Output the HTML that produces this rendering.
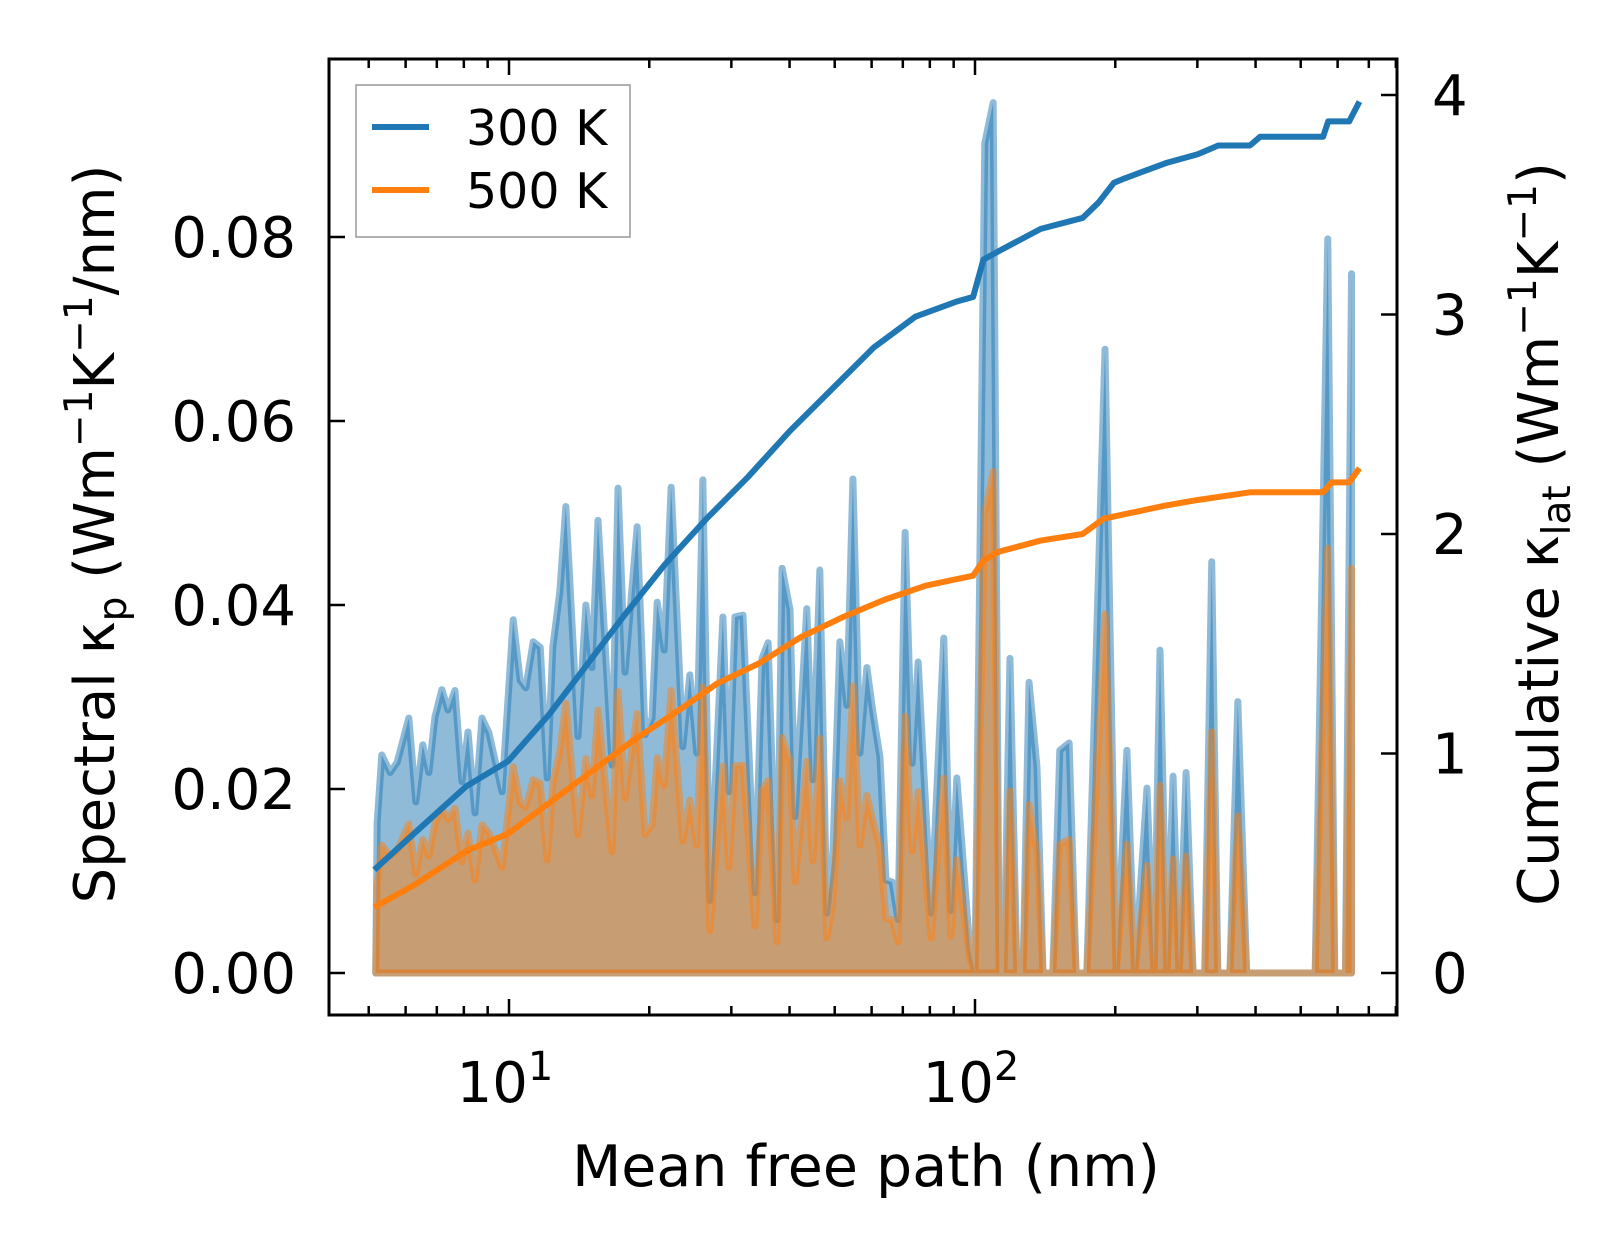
<!DOCTYPE html>
<html><head><meta charset="utf-8"><style>
html,body{margin:0;padding:0;background:#fff;}
svg{display:block;font-family:"DejaVu Sans","Liberation Sans",sans-serif;}
</style></head><body>
<svg id="chart" width="1623" height="1254" viewBox="0 0 1623 1254" xmlns="http://www.w3.org/2000/svg">
<rect width="1623" height="1254" fill="#fff"/>
<g id="plot"></g>
<g id="axes"></g>
</svg>
<script>
// log10 of mean free path (nm) for spectral series
const specLogMfp = [0.714,0.717,0.727,0.745,0.760,0.785,0.800,0.815,0.828,0.841,0.856,0.869,0.884,0.899,0.912,0.927,0.942,0.957,0.985,1.009,1.024,1.036,1.052,1.067,1.082,1.094,1.109,1.122,1.148,1.165,1.178,1.191,1.221,1.234,1.249,1.275,1.292,1.307,1.318,1.333,1.348,1.373,1.388,1.403,1.416,1.431,1.459,1.472,1.485,1.502,1.528,1.543,1.556,1.575,1.586,1.603,1.614,1.639,1.652,1.667,1.682,1.695,1.710,1.725,1.738,1.753,1.768,1.781,1.796,1.809,1.822,1.835,1.850,1.865,1.878,1.906,1.933,1.948,1.961,1.989,2.000,2.021,2.039,2.052,2.062,2.075,2.090,2.103,2.116,2.133,2.146,2.167,2.182,2.202,2.217,2.240,2.279,2.303,2.326,2.343,2.369,2.384,2.397,2.412,2.425,2.438,2.453,2.468,2.493,2.508,2.521,2.547,2.564,2.583,2.730,2.757,2.772,2.795,2.808];
// spectral kappa at 300 K (W/m/K/nm)
const spec300 = [0.0000,0.0163,0.0237,0.0218,0.0229,0.0277,0.0186,0.0248,0.0218,0.0278,0.0308,0.0286,0.0307,0.0208,0.0262,0.0174,0.0277,0.0261,0.0197,0.0384,0.0318,0.0310,0.0360,0.0354,0.0212,0.0354,0.0414,0.0507,0.0257,0.0400,0.0332,0.0492,0.0226,0.0527,0.0327,0.0485,0.0259,0.0277,0.0403,0.0351,0.0528,0.0246,0.0324,0.0239,0.0536,0.0079,0.0387,0.0197,0.0387,0.0389,0.0087,0.0342,0.0359,0.0058,0.0440,0.0395,0.0170,0.0396,0.0210,0.0438,0.0065,0.0130,0.0360,0.0291,0.0537,0.0239,0.0332,0.0283,0.0235,0.0101,0.0099,0.0058,0.0479,0.0228,0.0338,0.0065,0.0364,0.0068,0.0212,0.0025,0.0000,0.0902,0.0946,0.0000,0.0000,0.0342,0.0000,0.0000,0.0316,0.0224,0.0000,0.0000,0.0242,0.0250,0.0000,0.0000,0.0678,0.0000,0.0242,0.0000,0.0201,0.0000,0.0351,0.0000,0.0214,0.0000,0.0218,0.0000,0.0000,0.0447,0.0000,0.0000,0.0295,0.0000,0.0000,0.0798,0.0000,0.0000,0.0760];
// spectral kappa at 500 K
const spec500 = [0.0000,0.0095,0.0139,0.0127,0.0133,0.0162,0.0108,0.0145,0.0127,0.0162,0.0179,0.0167,0.0179,0.0121,0.0152,0.0101,0.0161,0.0152,0.0115,0.0224,0.0185,0.0180,0.0210,0.0206,0.0123,0.0206,0.0241,0.0293,0.0150,0.0233,0.0193,0.0286,0.0132,0.0306,0.0190,0.0282,0.0151,0.0161,0.0234,0.0204,0.0307,0.0143,0.0188,0.0139,0.0311,0.0046,0.0225,0.0115,0.0225,0.0226,0.0051,0.0199,0.0209,0.0034,0.0256,0.0230,0.0099,0.0230,0.0122,0.0255,0.0038,0.0076,0.0209,0.0169,0.0312,0.0139,0.0193,0.0165,0.0137,0.0059,0.0058,0.0034,0.0279,0.0133,0.0197,0.0038,0.0212,0.0040,0.0123,0.0015,0.0000,0.0500,0.0545,0.0000,0.0000,0.0198,0.0000,0.0000,0.0183,0.0130,0.0000,0.0000,0.0140,0.0145,0.0000,0.0000,0.0390,0.0000,0.0140,0.0000,0.0117,0.0000,0.0204,0.0000,0.0124,0.0000,0.0127,0.0000,0.0000,0.0262,0.0000,0.0000,0.0171,0.0000,0.0000,0.0462,0.0000,0.0000,0.0440];
// cumulative kappa curves
const cum300Log = [0.711,0.796,0.908,0.998,1.087,1.155,1.244,1.334,1.424,1.513,1.603,1.693,1.783,1.872,1.962,1.996,2.018,2.052,2.141,2.231,2.265,2.298,2.321,2.410,2.478,2.522,2.590,2.612,2.747,2.758,2.803,2.825];
const cum300 = [0.47,0.635,0.85,0.965,1.18,1.37,1.62,1.86,2.07,2.26,2.47,2.66,2.85,2.99,3.06,3.08,3.25,3.29,3.39,3.44,3.51,3.60,3.62,3.69,3.73,3.77,3.77,3.81,3.81,3.88,3.88,3.97];
const cum500Log = [0.711,0.796,0.908,0.998,1.087,1.177,1.267,1.357,1.446,1.536,1.626,1.715,1.805,1.895,1.996,2.018,2.052,2.141,2.231,2.276,2.321,2.410,2.478,2.590,2.747,2.765,2.803,2.825];
const cum500 = [0.30,0.40,0.555,0.635,0.776,0.918,1.06,1.186,1.318,1.41,1.53,1.62,1.70,1.765,1.81,1.88,1.92,1.97,2.00,2.07,2.09,2.13,2.155,2.19,2.19,2.235,2.235,2.30];
const leftTicks = [0,0.02,0.04,0.06,0.08];
const leftTickLabels = ["0.00","0.02","0.04","0.06","0.08"];
const rightTicks = [0,1,2,3,4];
const xMajor = [1,2];

const NS="http://www.w3.org/2000/svg";
const L=329,R=1397,T=59,B=1015;
const xs=lg=>509+(lg-1)*466;
const yl=v=>973-v*9200;
const yr=v=>973-v*219.5;
function mk(tag,attrs,parent){const e=document.createElementNS(NS,tag);for(const k in attrs)e.setAttribute(k,attrs[k]);parent.appendChild(e);return e;}
const plot=document.getElementById('plot'), axes=document.getElementById('axes');

function area(logs,vals,color,name){
  let d=`M${xs(logs[0])},${yl(0)}`;
  logs.forEach((l,i)=>{d+=` L${xs(l)},${yl(vals[i])}`;});
  d+=` L${xs(logs[logs.length-1])},${yl(0)} Z`;
  const p=mk('path',{d:d,fill:color,'fill-opacity':0.5,stroke:color,'stroke-opacity':0.5,'stroke-width':7,'stroke-linejoin':'round'},plot);
  
  
}
area(specLogMfp,spec300,'#1f77b4','spectral-area-300k');
area(specLogMfp,spec500,'#ff7f0e','spectral-area-500k');
function line(logs,vals,color,name){
  const pts=logs.map((l,i)=>`${xs(l)},${yr(vals[i])}`).join(' ');
  const p=mk('polyline',{points:pts,fill:'none',stroke:color,'stroke-width':6,'stroke-linejoin':'round'},plot);
  
  
}
line(cum300Log,cum300,'#1f77b4','cumulative-line-300k');
line(cum500Log,cum500,'#ff7f0e','cumulative-line-500k');

// frame
const fr=mk('rect',{x:L,y:T,width:R-L,height:B-T,fill:'none',stroke:'#000','stroke-width':3},axes);


// x ticks
for(let dec=0;dec<3;dec++){for(let m=1;m<10;m++){const lg=dec+Math.log10(m);const x=xs(lg);if(x<L||x>R)continue;const len=(m===1)?16:9;
 mk('line',{x1:x,y1:B,x2:x,y2:B-len,stroke:'#000','stroke-width':2.5},axes);
 mk('line',{x1:x,y1:T,x2:x,y2:T+len,stroke:'#000','stroke-width':2.5},axes);}}
xMajor.forEach(p=>{const t=mk('text',{x:xs(p)-4,y:1102,'font-size':56,'text-anchor':'middle'},axes);
 
 
 t.innerHTML=`10<tspan dy="-22" font-size="40">${p}</tspan>`;});
leftTicks.forEach((v,i)=>{const y=yl(v);mk('line',{x1:L,y1:y,x2:L+16,y2:y,stroke:'#000','stroke-width':2.5},axes);
 const t=mk('text',{x:296,y:y+20,'font-size':56,'text-anchor':'end'},axes);t.textContent=leftTickLabels[i];
 
 });
rightTicks.forEach(v=>{const y=yr(v);mk('line',{x1:R,y1:y,x2:R-16,y2:y,stroke:'#000','stroke-width':2.5},axes);
 const t=mk('text',{x:1432,y:y+20,'font-size':56},axes);t.textContent=String(v);
 
 });
</script>
<svg style="position:absolute;left:0;top:0" width="1623" height="1254" xmlns="http://www.w3.org/2000/svg" font-family="DejaVu Sans, Liberation Sans, sans-serif">
<text x="866" y="1186" font-size="57" text-anchor="middle">Mean free path (nm)</text>
<text transform="translate(114,534) rotate(-90)" font-size="56" text-anchor="middle">Spectral κ<tspan font-size="39" dy="12">p</tspan><tspan dy="-12"> (Wm</tspan><tspan font-size="39" dy="-22">−1</tspan><tspan dy="22">K</tspan><tspan font-size="39" dy="-22">−1</tspan><tspan dy="22">/nm)</tspan></text>
<text transform="translate(1558,534) rotate(-90)" font-size="56" text-anchor="middle">Cumulative κ<tspan font-size="39" dy="12">lat</tspan><tspan dy="-12"> (Wm</tspan><tspan font-size="39" dy="-22">−1</tspan><tspan dy="22">K</tspan><tspan font-size="39" dy="-22">−1</tspan><tspan dy="22">)</tspan></text>
<g>
<rect x="356" y="85" width="274" height="152" fill="#fff" fill-opacity="0.8" stroke="#999" stroke-width="1.5"/>
<line x1="372" y1="127" x2="429" y2="127" stroke="#1f77b4" stroke-width="6"/>
<text x="466" y="145" font-size="49">300 K</text>
<line x1="372" y1="190" x2="429" y2="190" stroke="#ff7f0e" stroke-width="6"/>
<text x="466" y="208" font-size="49">500 K</text>
</g>
</svg>
</body></html>
